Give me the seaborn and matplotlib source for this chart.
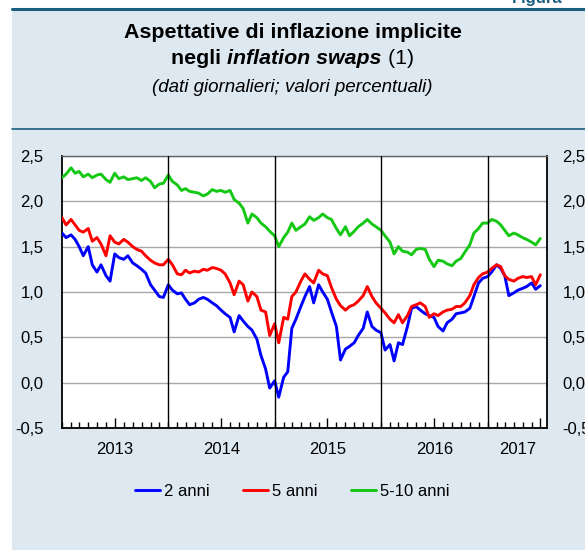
import numpy as np
import pandas as pd
import matplotlib
matplotlib.use("Agg")
import matplotlib.pyplot as plt
import matplotlib.dates as mdates
import matplotlib.transforms as mtransforms
from matplotlib.patches import Rectangle
from matplotlib.lines import Line2D
import seaborn as sns

# ---------------------------------------------------------------
# Dati (valori semi-mensili)
# ---------------------------------------------------------------
date = pd.date_range("2013-01-01", periods=109, freq="SMS")

anni_2 = [1.65, 1.60, 1.63, 1.58, 1.50, 1.40, 1.50, 1.30, 1.22, 1.30, 1.18, 1.12,
          1.42, 1.38, 1.36, 1.40, 1.32, 1.29, 1.25, 1.21, 1.08, 1.02, 0.95, 0.94,
          1.08, 1.02, 0.98, 0.99, 0.92, 0.86, 0.88, 0.92, 0.94, 0.92, 0.88, 0.85,
          0.80, 0.76, 0.72, 0.56, 0.74, 0.68, 0.62, 0.58, 0.48, 0.30, 0.15, -0.06,
          0.02, -0.16, 0.06, 0.12, 0.60, 0.70, 0.84, 0.95, 1.06, 0.88, 1.08, 1.00,
          0.92, 0.78, 0.62, 0.25, 0.37, 0.40, 0.44, 0.52, 0.60, 0.78, 0.62, 0.58,
          0.55, 0.36, 0.42, 0.24, 0.44, 0.42, 0.62, 0.82, 0.84, 0.80, 0.76, 0.74,
          0.72, 0.62, 0.57, 0.66, 0.70, 0.76, 0.77, 0.78, 0.82, 0.95, 1.10, 1.15,
          1.17, 1.22, 1.30, 1.26, 1.18, 0.96, 0.99, 1.02, 1.04, 1.06, 1.10, 1.03,
          1.07]

anni_5 = [1.82, 1.74, 1.80, 1.74, 1.68, 1.66, 1.70, 1.56, 1.60, 1.53, 1.40, 1.62,
          1.55, 1.53, 1.58, 1.55, 1.50, 1.47, 1.45, 1.40, 1.35, 1.32, 1.30, 1.30,
          1.36, 1.30, 1.20, 1.19, 1.24, 1.21, 1.23, 1.22, 1.25, 1.24, 1.27, 1.26,
          1.24, 1.20, 1.10, 0.97, 1.12, 1.08, 0.90, 1.00, 0.95, 0.80, 0.78, 0.52,
          0.65, 0.44, 0.72, 0.70, 0.95, 1.00, 1.12, 1.20, 1.14, 1.10, 1.24, 1.20,
          1.18, 1.05, 0.92, 0.85, 0.80, 0.84, 0.86, 0.90, 0.96, 1.06, 0.95, 0.88,
          0.82, 0.77, 0.70, 0.66, 0.75, 0.66, 0.74, 0.84, 0.86, 0.88, 0.84, 0.72,
          0.76, 0.74, 0.78, 0.80, 0.81, 0.84, 0.84, 0.88, 0.96, 1.08, 1.16, 1.20,
          1.22, 1.26, 1.30, 1.28, 1.18, 1.14, 1.12, 1.15, 1.17, 1.16, 1.17, 1.08,
          1.19]

anni_5_10 = [2.26, 2.30, 2.37, 2.31, 2.33, 2.27, 2.30, 2.26, 2.29, 2.30, 2.24, 2.21,
             2.31, 2.25, 2.27, 2.24, 2.25, 2.26, 2.23, 2.26, 2.22, 2.15, 2.19, 2.20,
             2.29, 2.22, 2.18, 2.12, 2.14, 2.11, 2.10, 2.09, 2.06, 2.08, 2.13, 2.11,
             2.12, 2.10, 2.12, 2.02, 1.98, 1.92, 1.76, 1.86, 1.82, 1.76, 1.72, 1.67,
             1.62, 1.50, 1.60, 1.66, 1.76, 1.68, 1.72, 1.75, 1.83, 1.79, 1.82, 1.86,
             1.82, 1.80, 1.70, 1.63, 1.72, 1.62, 1.67, 1.72, 1.76, 1.80, 1.75, 1.72,
             1.68, 1.62, 1.55, 1.42, 1.50, 1.45, 1.44, 1.41, 1.47, 1.48, 1.47, 1.36,
             1.28, 1.35, 1.34, 1.31, 1.29, 1.34, 1.37, 1.44, 1.52, 1.65, 1.70, 1.76,
             1.76, 1.80, 1.78, 1.74, 1.68, 1.62, 1.65, 1.63, 1.60, 1.58, 1.55, 1.52,
             1.59]

serie = ["2 anni", "5 anni", "5-10 anni"]
colori = ["#0000ff", "#ff0000", "#14c814"]
anni_etichetta = [2013, 2014, 2015, 2016, 2017]
y_ticks = [-0.5, 0.0, 0.5, 1.0, 1.5, 2.0, 2.5]

# ---------------------------------------------------------------
# Stile
# ---------------------------------------------------------------
sns.set_theme(style="white")
plt.rcParams["font.family"] = ["Liberation Sans", "DejaVu Sans"]
plt.rcParams["text.color"] = "black"
plt.rcParams["xtick.color"] = "black"
plt.rcParams["ytick.color"] = "black"

W, H = 585, 550
BG = "#dde8f0"
LINEA = "#1c5e80"

df = pd.DataFrame({
    "data": np.concatenate([date, date, date]),
    "valore": anni_2 + anni_5 + anni_5_10,
    "serie": np.repeat(serie, len(date)),
})

fig = plt.figure(figsize=(W / 100, H / 100), dpi=100)
fig.patch.set_facecolor("white")

# pannello azzurro + linee di separazione (dietro agli assi)
fig.add_artist(Rectangle((12 / W, 0), 1, (H - 9) / H, transform=fig.transFigure,
                         facecolor=BG, edgecolor="none", zorder=-5))
fig.add_artist(Line2D([12 / W, 1], [(H - 9) / H] * 2, color=LINEA, lw=2.2, zorder=-4))
fig.add_artist(Line2D([12 / W, 1], [(H - 129) / H] * 2, color=LINEA, lw=1.2, zorder=-4))
fig.text(512 / W, 1.0 + 1 / H, "Figura", color=LINEA, fontsize=12, fontweight="bold",
         ha="left", va="center")

# ---------------------------------------------------------------
# Titolo
# ---------------------------------------------------------------
fig.text(0.5, 1 - 33 / H, "Aspettative di inflazione implicite", ha="center", va="center",
         fontsize=15.4, fontweight="bold")
fig.canvas.draw()
r = fig.canvas.get_renderer()
parti = [("negli ", "bold", "normal"), ("inflation swaps", "bold", "italic"), (" (1)", "normal", "normal")]
testi = []
for s, w, st in parti:
    testi.append(fig.text(0, 1 - 58 / H, s, ha="left", va="center", fontsize=15.4,
                          fontweight=w, fontstyle=st))
larg = [t.get_window_extent(r).width for t in testi]
x0 = (W - sum(larg)) / 2
for t, l in zip(testi, larg):
    t.set_x(x0 / W)
    x0 += l
fig.text(0.5, 1 - 88 / H, "(dati giornalieri; valori percentuali)", ha="center", va="center",
         fontsize=13.5, fontstyle="italic")

# ---------------------------------------------------------------
# Grafico
# ---------------------------------------------------------------
ax = fig.add_axes([62 / W, (H - 428) / H, (547 - 62) / W, (428 - 156) / H])
ax.set_facecolor("white")
sns.lineplot(data=df, x="data", y="valore", hue="serie", palette=colori, lw=2.1,
             ax=ax, legend=True, zorder=5)
handles, labels = ax.get_legend_handles_labels()
ax.get_legend().remove()

x_min, x_max = pd.Timestamp("2013-01-01"), pd.Timestamp("2017-07-24")
ax.set_xlim(x_min, x_max)
ax.set_ylim(-0.5, 2.5)
ax.set_xlabel("")
ax.set_ylabel("")

etichette_y = [f"{v:.1f}".replace(".", ",") for v in y_ticks]
ax.set_yticks(y_ticks)
ax.set_yticklabels(etichette_y, fontsize=12)
ax.yaxis.grid(True, color="#a8a8a8", lw=1)
ax.xaxis.grid(False)
ax.tick_params(axis="y", left=False, length=0, pad=13.5)

ax2 = ax.twinx()
ax2.set_ylim(-0.5, 2.5)
ax2.set_yticks(y_ticks)
ax2.set_yticklabels(etichette_y, fontsize=12)
ax2.tick_params(axis="y", right=False, length=0, pad=11)
for sp in ax2.spines.values():
    sp.set_visible(False)

# tacche: mensili piccole, luglio più lunghe
ax.xaxis.set_major_locator(mdates.MonthLocator(bymonth=7))
ax.xaxis.set_minor_locator(mdates.MonthLocator())
ax.tick_params(axis="x", which="major", direction="in", length=7, width=1,
               color="black", labelbottom=False, bottom=True)
ax.tick_params(axis="x", which="minor", direction="in", length=4.5, width=1,
               color="black", bottom=True)

for a in anni_etichetta[1:]:
    ax.axvline(pd.Timestamp(f"{a}-01-01"), color="black", lw=1, zorder=6)

trans = mtransforms.blended_transform_factory(ax.transData, ax.transAxes)
for a in anni_etichetta:
    s = max(pd.Timestamp(f"{a}-01-01"), x_min)
    e = min(pd.Timestamp(f"{a + 1}-01-01"), x_max)
    ax.text(mdates.date2num(s + (e - s) / 2), -0.08, str(a), transform=trans,
            ha="center", va="center", fontsize=12)

for nome, sp in ax.spines.items():
    sp.set_visible(True)
    sp.set_color("black")
    sp.set_linewidth(1.3)
ax.spines["top"].set_color("#666666")
ax.spines["top"].set_linewidth(1)

# ---------------------------------------------------------------
# Legenda
# ---------------------------------------------------------------
fig.legend(handles, labels, loc="center", bbox_to_anchor=(0.5, (H - 491) / H), ncol=3,
           frameon=False, fontsize=12, handlelength=1.5, handletextpad=0.25,
           columnspacing=2.0)

fig.savefig("out.png", dpi=100)
